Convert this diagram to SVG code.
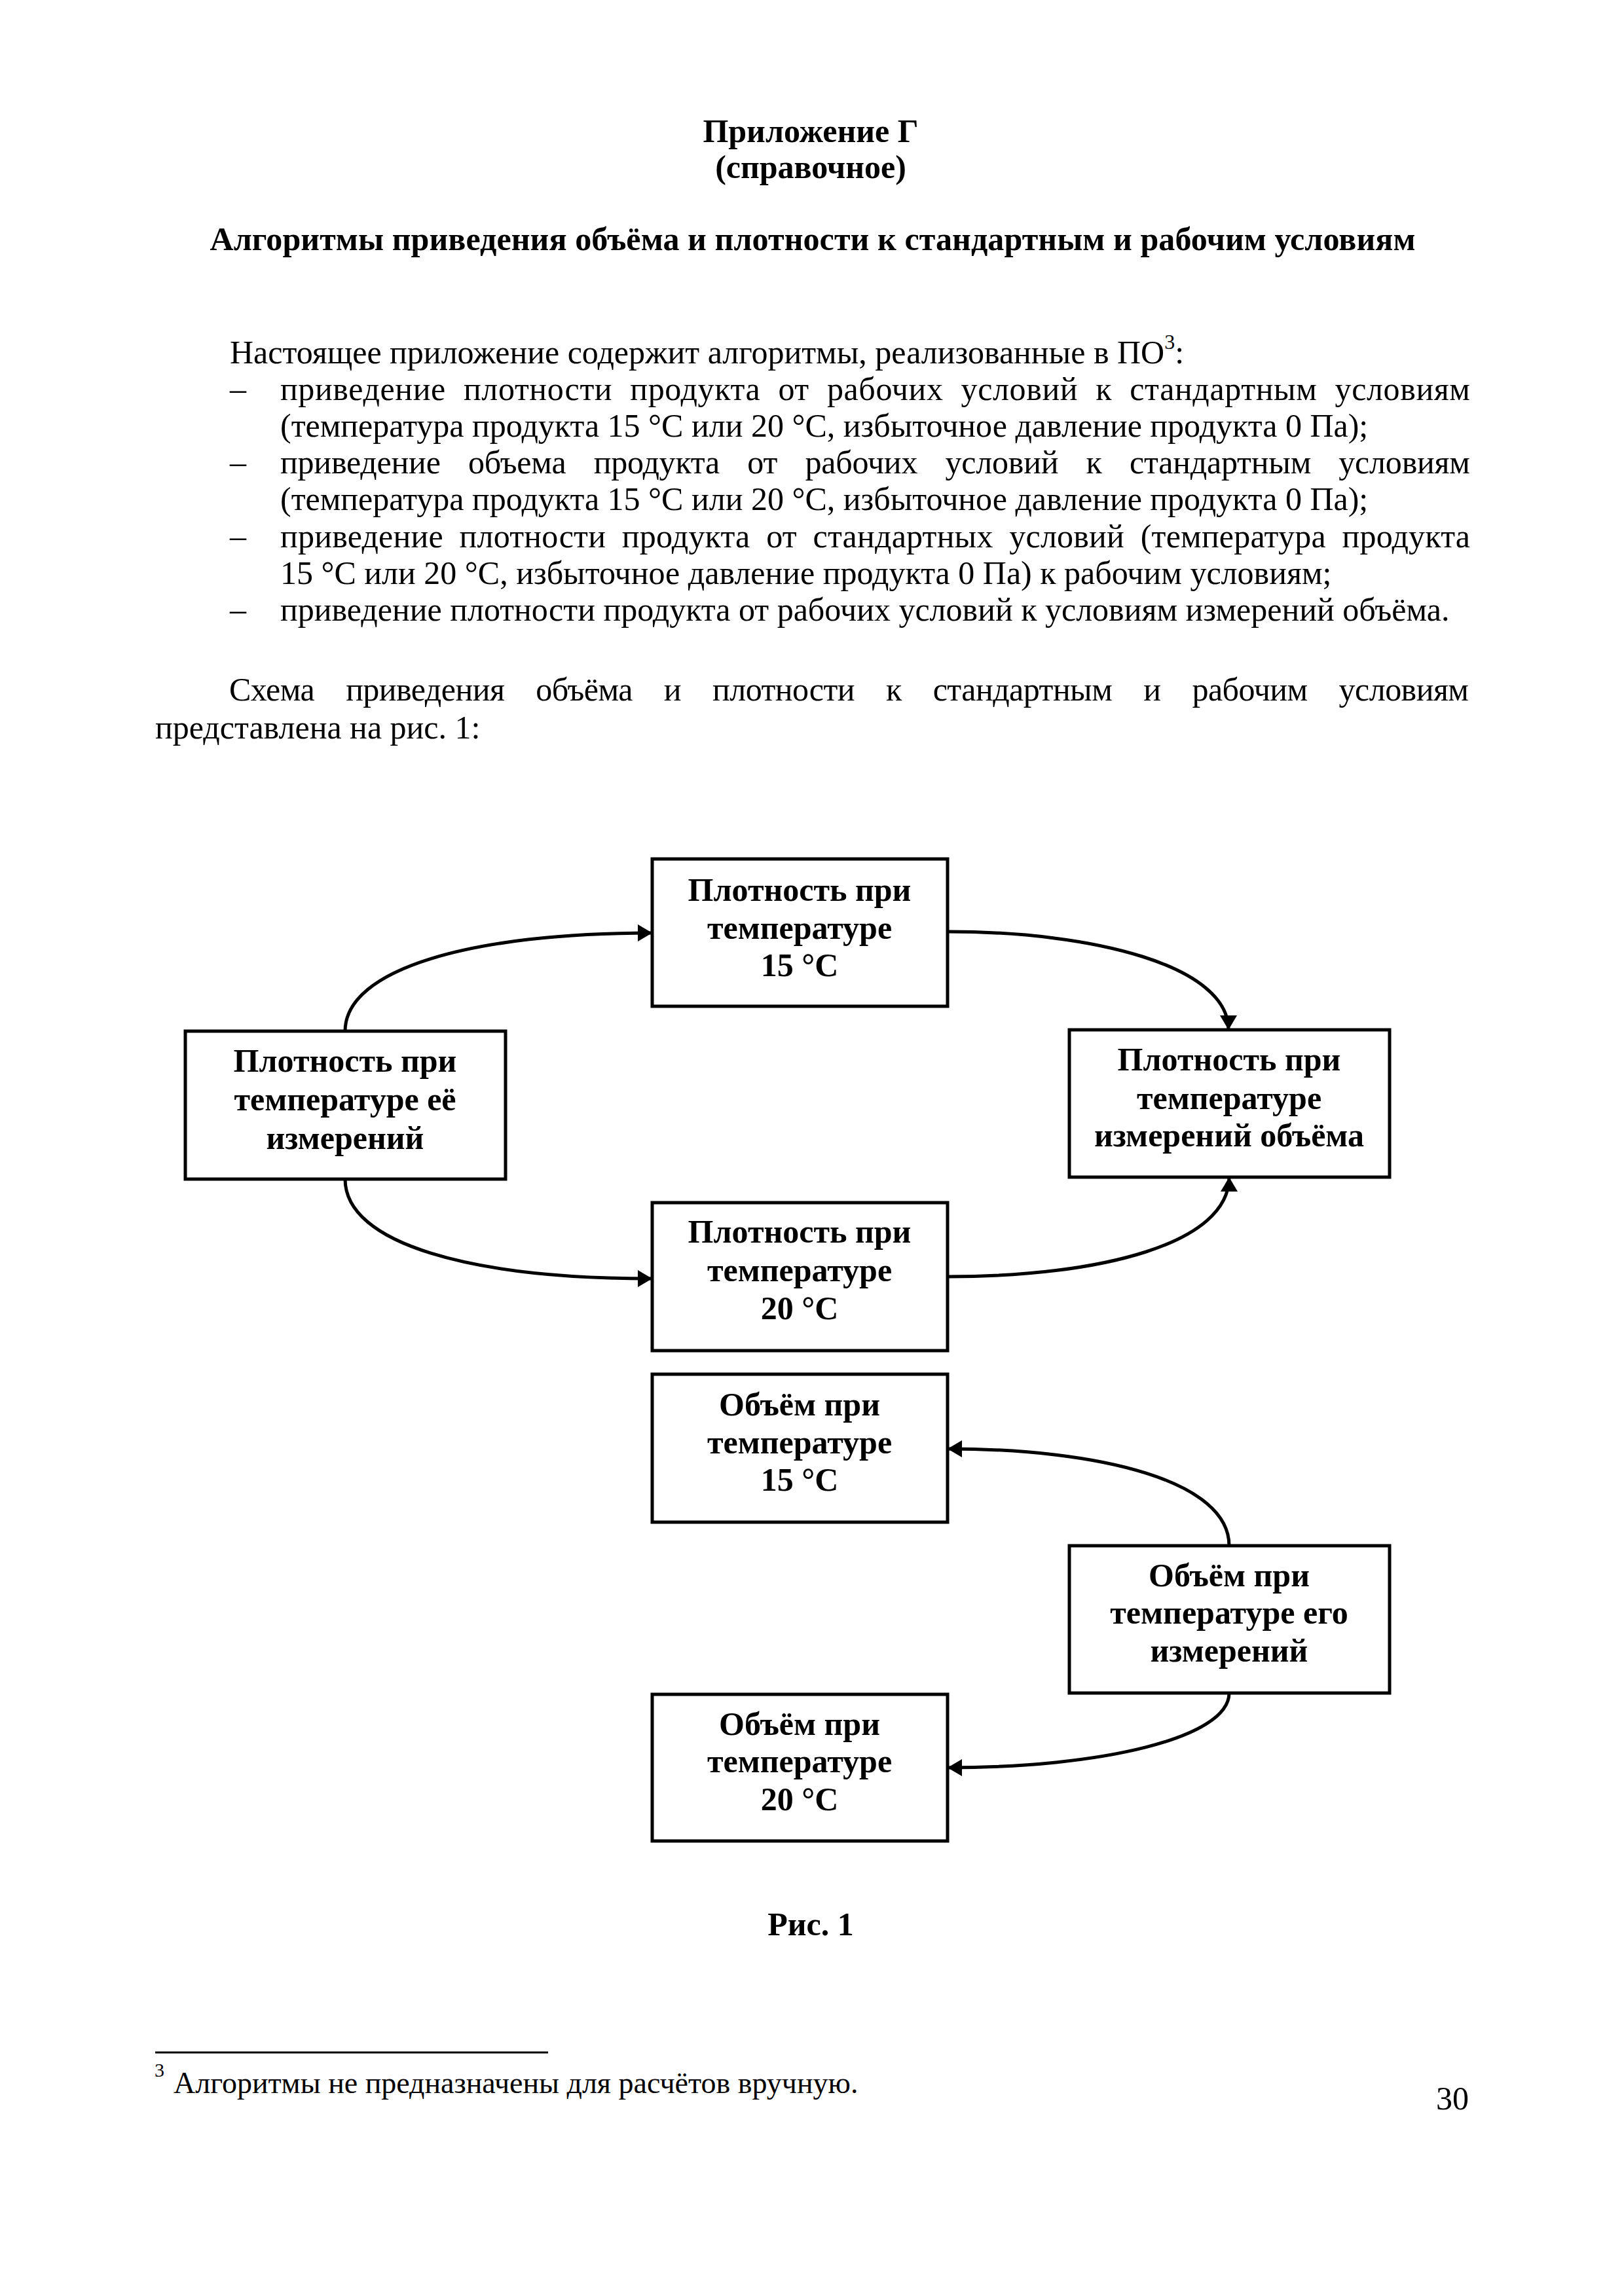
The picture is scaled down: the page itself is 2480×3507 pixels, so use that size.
<svg xmlns="http://www.w3.org/2000/svg" width="2480" height="3507" viewBox="0 0 2480 3507">
<style>
text{font-family:"Liberation Serif","Times New Roman",serif;fill:#000}
.b{font-weight:bold}
.t{font-size:50px}
.h{font-size:50px;font-weight:bold;text-anchor:middle}
.n{font-size:50px;font-weight:bold;text-anchor:middle}
.box{fill:#fff;stroke:#000;stroke-width:5}
.c{fill:none;stroke:#000;stroke-width:5;marker-end:url(#ah)}
.fn{font-size:46px}
</style>
<defs>
<marker id="ah" markerUnits="userSpaceOnUse" markerWidth="24" markerHeight="26" refX="22" refY="13" orient="auto">
<path d="M0,0 L22,13 L0,26 z" fill="#000"/>
</marker>
</defs>
<rect width="2480" height="3507" fill="#fff"/>
<g id="header">
<text class="h" x="1238" y="217">Приложение Г</text>
<text class="h" x="1238" y="272">(справочное)</text>
<text class="h" x="1241" y="382" textLength="1841" lengthAdjust="spacing">Алгоритмы приведения объёма и плотности к стандартным и рабочим условиям</text>
</g>
<g id="body" class="t">
<text class="t" x="351" y="555">Настоящее приложение содержит алгоритмы, реализованные в ПО<tspan font-size="32" dy="-22">3</tspan><tspan dy="22">:</tspan></text>
<text class="t" x="351" y="611">–</text>
<text class="t" x="428" y="611" word-spacing="14" textLength="1817" lengthAdjust="spacing">приведение плотности продукта от рабочих условий к стандартным условиям</text>
<text class="t" x="428" y="667">(температура продукта 15 °С или 20 °С, избыточное давление продукта 0 Па);</text>
<text class="t" x="351" y="723">–</text>
<text class="t" x="428" y="723" word-spacing="30" textLength="1817" lengthAdjust="spacing">приведение объема продукта от рабочих условий к стандартным условиям</text>
<text class="t" x="428" y="779">(температура продукта 15 °С или 20 °С, избыточное давление продукта 0 Па);</text>
<text class="t" x="351" y="836">–</text>
<text class="t" x="428" y="836" word-spacing="12" textLength="1817" lengthAdjust="spacing">приведение плотности продукта от стандартных условий (температура продукта</text>
<text class="t" x="428" y="892">15 °С или 20 °С, избыточное давление продукта 0 Па) к рабочим условиям;</text>
<text class="t" x="351" y="948">–</text>
<text class="t" x="428" y="948">приведение плотности продукта от рабочих условий к условиям измерений объёма.</text>
<text class="t" x="350" y="1070" word-spacing="36" textLength="1893" lengthAdjust="spacing">Схема приведения объёма и плотности к стандартным и рабочим условиям</text>
<text class="t" x="237" y="1128">представлена на рис. 1:</text>
</g>
<g id="connectors">
<path class="c" d="M527,1575 C527,1480 720,1425 996,1425"/>
<path class="c" d="M1447,1423 C1670,1423 1876,1475 1876,1573"/>
<path class="c" d="M527,1801 C527,1900 720,1953 996,1953"/>
<path class="c" d="M1447,1950 C1680,1950 1877,1900 1877,1798"/>
<path class="c" d="M1877,2361 C1877,2262 1680,2213 1447,2213"/>
<path class="c" d="M1877,2586 C1877,2655 1680,2700 1447,2700"/>
</g>
<g id="n_dens15">
<rect class="box" x="996" y="1312" width="451" height="225"/>
<text class="n" x="1221" y="1376">Плотность при</text>
<text class="n" x="1221" y="1434">температуре</text>
<text class="n" x="1221" y="1491">15 °C</text>
</g>
<g id="n_dens_meas">
<rect class="box" x="283" y="1575" width="489" height="226"/>
<text class="n" x="527" y="1637">Плотность при</text>
<text class="n" x="527" y="1696">температуре её</text>
<text class="n" x="527" y="1755">измерений</text>
</g>
<g id="n_dens_vol">
<rect class="box" x="1633" y="1573" width="489" height="225"/>
<text class="n" x="1877" y="1635">Плотность при</text>
<text class="n" x="1877" y="1694">температуре</text>
<text class="n" x="1877" y="1751">измерений объёма</text>
</g>
<g id="n_dens20">
<rect class="box" x="996" y="1837" width="451" height="226"/>
<text class="n" x="1221" y="1898">Плотность при</text>
<text class="n" x="1221" y="1957">температуре</text>
<text class="n" x="1221" y="2015">20 °C</text>
</g>
<g id="n_vol15">
<rect class="box" x="996" y="2099" width="451" height="226"/>
<text class="n" x="1221" y="2162">Объём при</text>
<text class="n" x="1221" y="2220">температуре</text>
<text class="n" x="1221" y="2277">15 °C</text>
</g>
<g id="n_vol_meas">
<rect class="box" x="1633" y="2361" width="489" height="225"/>
<text class="n" x="1877" y="2423">Объём при</text>
<text class="n" x="1877" y="2480">температуре его</text>
<text class="n" x="1877" y="2538">измерений</text>
</g>
<g id="n_vol20">
<rect class="box" x="996" y="2588" width="451" height="224"/>
<text class="n" x="1221" y="2650">Объём при</text>
<text class="n" x="1221" y="2707">температуре</text>
<text class="n" x="1221" y="2765">20 °C</text>
</g>
<g id="footer">
<text class="h" x="1238" y="2956">Рис. 1</text>
<line x1="237" y1="3135" x2="837" y2="3135" stroke="#000" stroke-width="3"/>
<text x="236" y="3172" font-size="30">3</text>
<text class="fn" x="265" y="3197">Алгоритмы не предназначены для расчётов вручную.</text>
<text class="t" x="2243" y="3222" text-anchor="end">30</text>
</g>
</svg>
